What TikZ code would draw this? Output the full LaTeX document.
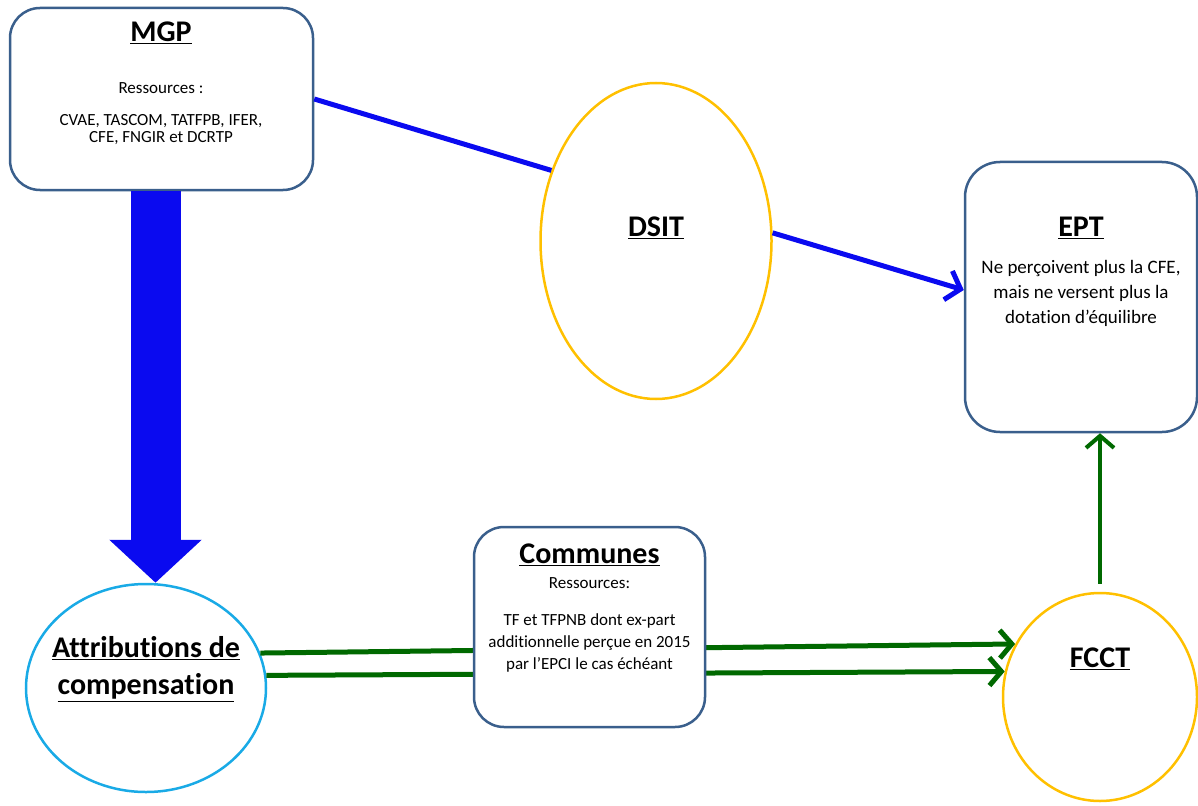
\documentclass[tikz,border=0pt]{standalone}
\usepackage{fontspec}
\setmainfont{Carlito}[Ligatures=NoCommon]
\usetikzlibrary{arrows.meta,shapes.geometric}
\definecolor{boxc}{RGB}{58,95,140}
\definecolor{blu}{RGB}{10,10,240}
\definecolor{gold}{RGB}{255,192,0}
\definecolor{cyn}{RGB}{25,170,230}
\definecolor{grn}{RGB}{0,105,0}
\tikzset{
  rbox/.style={draw=boxc, line width=2.5pt, rounded corners=30pt, fill=white, inner sep=0pt},
  oval/.style={ellipse, line width=2.5pt, fill=white, inner sep=0pt},
  ttl/.style={font=\fontsize{30}{36}\selectfont\bfseries, inner sep=0pt},
  txt/.style={font=\fontsize{17}{17}\selectfont, align=center, inner sep=0pt},
  bluline/.style={draw=blu, line width=5pt},
  grnline/.style={draw=grn, line width=5pt},
  bbarb/.style={-{Straight Barb[length=13pt,width=30pt]}},
  gbarb/.style={-{Straight Barb[length=12pt,width=28pt]}}
}
\begin{document}
\begin{tikzpicture}[x=1pt,y=-1pt]
\useasboundingbox (0,0) rectangle (1198,805);
% shapes
\node[oval, draw=gold, minimum width=231pt, minimum height=316pt] (dsit) at (656,241) {};
\node[oval, draw=cyn, minimum width=240pt, minimum height=208pt] (att) at (146,688) {};
\node[oval, draw=gold, minimum width=194pt, minimum height=208pt] (fcct) at (1100,697) {};
\node[rbox, minimum width=303pt, minimum height=182pt] (mgp) at (161.5,99) {};
\node[rbox, rounded corners=35pt, minimum width=232pt, minimum height=270pt] (ept) at (1081,297) {};
% connectors
\draw[bluline] (mgp.east) -- (dsit.146);
\draw[bluline, bbarb] (dsit.4) -- ([yshift=7pt]ept.west);
\draw[grnline, gbarb] (att.17) -- (fcct.148);
\draw[grnline, gbarb] (att.6) -- (fcct.165);
\draw[draw=grn, line width=4pt, gbarb] ([yshift=8pt]fcct.north) -- (fcct.north |- ept.south);
\draw[blu, line width=50pt, -{Triangle[length=43pt,width=90pt]}] ([xshift=-6pt]mgp.south) -- ([xshift=-6pt]mgp.south |- att.north);
% communes box on top of green lines
\node[rbox, minimum width=231pt, minimum height=200pt] (com) at (589.5,627) {};
% texts
\node[ttl] (mgpT) at (161,33) {\underline{MGP}};
\node[txt] (mgpR) at (161,88) {Ressources :};
\node[txt, font=\fontsize{17}{17}\selectfont] (mgpL) at (161,130) {CVAE, TASCOM, TATFPB, IFER,\\CFE, FNGIR et DCRTP};
\node[ttl] (dsitT) at (656,228) {\underline{DSIT}};
\node[ttl] (eptT) at (1081,228) {\underline{EPT}};
\node[txt, font=\fontsize{19}{25}\selectfont] (eptL) at (1081,293) {Ne perçoivent plus la CFE,\\mais ne versent plus la\\dotation d’équilibre};
\node[ttl] (comT) at (589.5,555) {\underline{Communes}};
\node[txt] (comR) at (589.5,583) {Ressources:};
\node[txt, font=\fontsize{17}{22}\selectfont] (comL) at (589.5,643) {TF et TFPNB dont ex-part\\additionnelle perçue en 2015\\par l’EPCI le cas échéant};
\node[ttl, align=center, font=\fontsize{30}{37}\selectfont\bfseries] (attT) at (146,669) {\underline{Attributions de}\\\underline{compensation}};
\node[ttl] (fcctT) at (1100,659) {\underline{FCCT}};
\end{tikzpicture}
\end{document}
